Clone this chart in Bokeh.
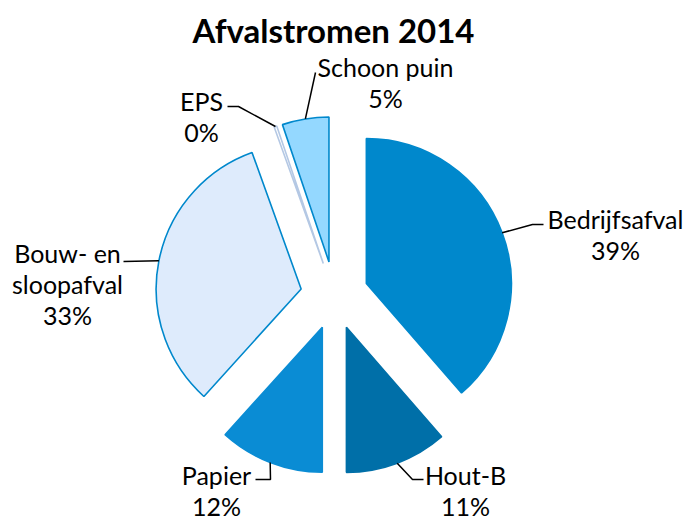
import math
from bokeh.plotting import figure
from bokeh.models import Range1d, ColumnDataSource
from bokeh.core.properties import value
from bokeh.embed import file_html
from bokeh.resources import INLINE

# ---- data ----
categories = ["Bedrijfsafval", "Hout-B", "Papier", "Bouw- en\nsloopafval", "EPS", "Schoon puin"]
shares = [38.6, 11.4, 11.7, 32.8, 0.3, 5.2]
fill_colors = ["#0088CC", "#006FA8", "#0A8CD4", "#DEEBFC", "#FFFFFF", "#94D8FF"]
line_colors = ["#0088CC", "#006FA8", "#0A8CD4", "#0088CC", "#B4C8E4", "#0088CC"]
title_text = "Afvalstromen 2014"

# ---- layout (screen pixel coordinates of the 683x519 page) ----
W, H = 683, 519
CX, CY = 334, 295      # pie centre
R = 145                # radius
EXPLODE = 34           # explosion distance
# label text centre (first line) and leader path (elbow, end)
label_xy = [(615, 218), (465, 474), (216, 474), (67, 252), (201, 100), (385, 66)]
leader_pts = [[(532, 224), (543, 224)], [(412, 479), (423, 479)], [(270, 479), (255, 479)],
              [(123, 261)], [(238, 106), (227, 106)], [(315, 72)]]
LINE_H = 31

def sy(y):
    return H - y

p = figure(width=W, height=H, output_backend="svg", toolbar_location=None,
           x_range=Range1d(0, W), y_range=Range1d(0, H), min_border=0)
p.axis.visible = False
p.grid.visible = False
p.outline_line_color = None

total = sum(shares)
acc = 0.0
wx, wy, sa, ea, mids = [], [], [], [], []
for v in shares:
    t0 = acc / total * 360.0
    t1 = (acc + v) / total * 360.0
    acc += v
    mid = math.radians((t0 + t1) / 2)
    ox = CX + EXPLODE * math.sin(mid)
    oy = CY - EXPLODE * math.cos(mid)
    wx.append(ox)
    wy.append(sy(oy))
    sa.append(math.radians(90 - t0))
    ea.append(math.radians(90 - t1))
    mids.append((ox, oy, mid))

src = ColumnDataSource(dict(x=wx, y=wy, sa=sa, ea=ea, fc=fill_colors, lc=line_colors))
p.wedge(x="x", y="y", radius=R, start_angle="sa", end_angle="ea", direction="clock",
        fill_color="fc", line_color="lc", line_width=1.6, source=src)

# leader lines
for (ox, oy, mid), pts in zip(mids, leader_pts):
    sx0 = ox + R * math.sin(mid)
    sy0 = oy - R * math.cos(mid)
    xs = [sx0] + [q[0] for q in pts]
    ys = [sy(sy0)] + [sy(q[1]) for q in pts]
    p.line(xs, ys, line_color="black", line_width=1.5)

# labels
tx, ty, tt = [], [], []
for name, v, (lx, ly) in zip(categories, shares, label_xy):
    lines = name.split("\n") + [f"{round(v / total * 100):.0f}%"]
    for i, ln in enumerate(lines):
        tx.append(lx)
        ty.append(sy(ly + i * LINE_H))
        tt.append(ln)
p.text(x=tx, y=ty, text=tt, text_font=value("Lato"), text_font_size="25px",
       text_align="center", text_baseline="middle", text_color="black")

p.text(x=[333], y=[sy(29)], text=[title_text], text_font=value("Lato"), text_font_size="33px",
       text_font_style="bold", text_align="center", text_baseline="middle", text_color="black")

open("out.html", "w").write(file_html(p, INLINE))
